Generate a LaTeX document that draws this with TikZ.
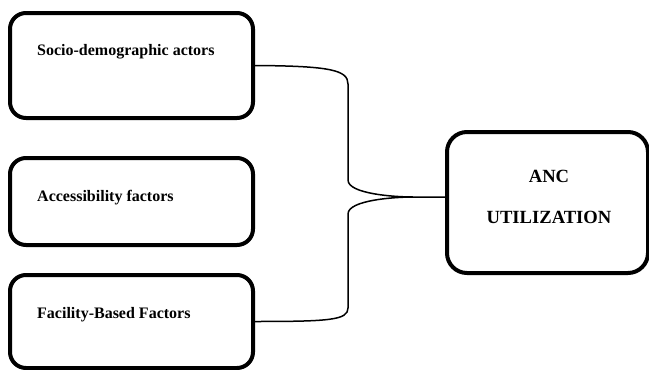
\documentclass[tikz,border=0pt]{standalone}
\usepackage{fontspec}
\setmainfont{Liberation Serif}
\begin{document}
\begin{tikzpicture}[x=1pt,y=-1pt,
  leftbox/.style={draw, line width=4pt, rounded corners=16pt, minimum width=243pt, inner sep=0pt},
  ancbox/.style={draw, line width=4pt, rounded corners=20pt, minimum width=201pt, minimum height=141pt, inner sep=0pt},
  lbl/.style={font=\bfseries\fontsize{16}{19}\selectfont, anchor=west, inner sep=0pt},
  anclbl/.style={font=\bfseries\fontsize{18.6}{22}\selectfont, align=center},
  conn/.style={line width=1.5pt}]
\useasboundingbox (0,0) rectangle (649,370);
\node[leftbox, minimum height=105pt] (b1) at (131.5,65.5) {};
\node[leftbox, minimum height=87pt] (b2) at (131.5,201.5) {};
\node[leftbox, minimum height=93pt] (b3) at (131.5,321.5) {};
\node[ancbox] (anc) at (547.5,202.5) {};
\node[lbl] (t1) at (37,52) {Socio-demographic actors};
\node[lbl] (t2) at (37,198) {Accessibility factors};
\node[lbl] (t3) at (37,315) {Facility-Based Factors};
\node[anclbl] (t4) at (549,176) {ANC};
\node[anclbl] (t5) at (549,217) {UTILIZATION};
\coordinate (tip) at (413,197);
\coordinate (ancin) at (anc.west |- tip);
\draw[conn] (b1.east) .. controls (330,66) and (348,70) .. (348,84)
  -- (348,180) .. controls (348,194) and (395,197) .. (tip) -- (ancin);
\draw[conn] (tip) .. controls (395,197) and (348,200) .. (348,214)
  -- (348,308) .. controls (348,320) and (330,321.5) .. (b3.east);
\end{tikzpicture}
\end{document}
